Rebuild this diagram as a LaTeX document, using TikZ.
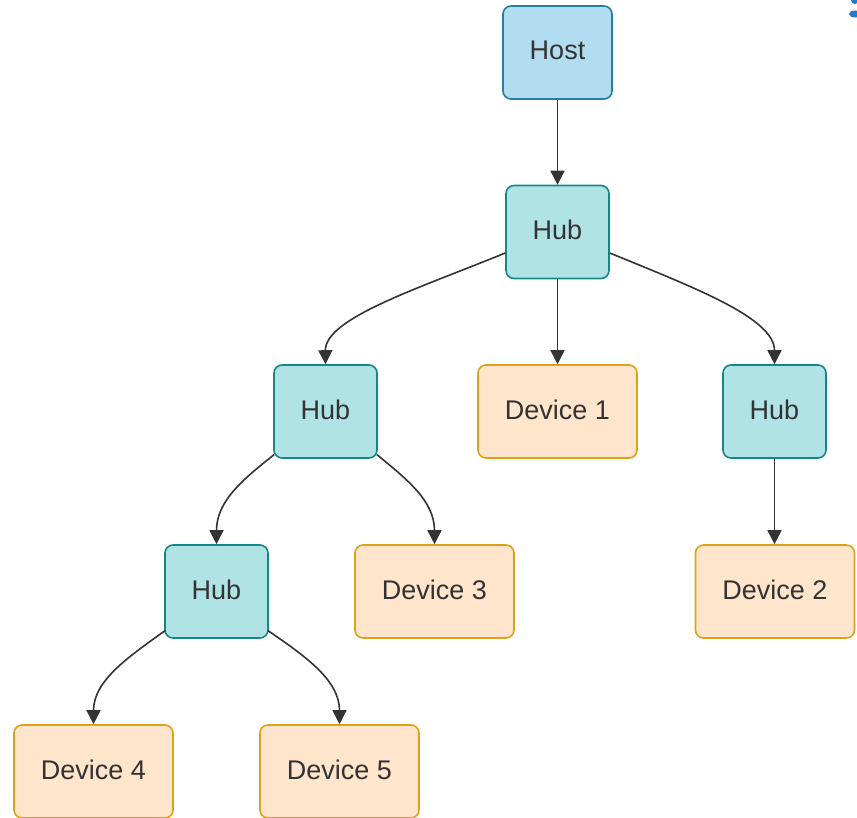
\documentclass[tikz,border=0pt]{standalone}
\usepackage{fontspec}
\setmainfont{Liberation Sans}
\usetikzlibrary{arrows.meta}
\definecolor{txt}{HTML}{333333}
\definecolor{hostfill}{HTML}{B2DDF0}
\definecolor{hostdraw}{HTML}{23809E}
\definecolor{hubfill}{HTML}{B0E3E6}
\definecolor{hubdraw}{HTML}{17868A}
\definecolor{devfill}{HTML}{FFE5CC}
\definecolor{devdraw}{HTML}{DDA21A}
\definecolor{markblue}{HTML}{1F7CCB}
\tikzset{
  box/.style={rounded corners=8pt, line width=1.6pt, text=txt, font=\fontsize{27}{31}\selectfont, inner sep=0pt, text depth=4pt, anchor=center},
  hoststyle/.style={box, fill=hostfill, draw=hostdraw, minimum width=109pt, minimum height=93pt},
  hubstyle/.style={box, fill=hubfill, draw=hubdraw, minimum width=103pt, minimum height=93pt},
  devstyle/.style={box, fill=devfill, draw=devdraw, minimum width=159pt, minimum height=93pt},
  edge/.style={draw=txt, line width=1.6pt, -{Triangle[length=14pt,width=14pt]}}
}
\begin{document}
\begin{tikzpicture}[x=1pt,y=-1pt]
\useasboundingbox (0,0) rectangle (857,817);
\node[hoststyle] (host) at (557.5,52.5) {Host};
\node[hubstyle] (hub1) at (557.5,232) {Hub};
\node[hubstyle] (hub2) at (325.5,411.5) {Hub};
\node[devstyle] (dev1) at (557.5,411.5) {Device 1};
\node[hubstyle] (hub3) at (774.5,411.5) {Hub};
\node[hubstyle] (hub4) at (216.5,591.5) {Hub};
\node[devstyle] (dev3) at (434.5,591.5) {Device 3};
\node[devstyle] (dev2) at (775,591.5) {Device 2};
\node[devstyle] (dev4) at (93.5,771.5) {Device 4};
\node[devstyle] (dev5) at (339.5,771.5) {Device 5};
% anchor points on hub borders
\coordinate (h1l) at ([yshift=-21pt]hub1.west);
\coordinate (h1r) at ([yshift=-21pt]hub1.east);
\coordinate (h2l) at ([xshift=1pt,yshift=-43pt]hub2.west);
\coordinate (h2r) at ([xshift=-1pt,yshift=-43pt]hub2.east);
\coordinate (h4l) at ([xshift=1pt,yshift=-39pt]hub4.west);
\coordinate (h4r) at ([xshift=-1pt,yshift=-39pt]hub4.east);
\draw[edge] (host.south) -- (hub1.north);
\draw[edge] (hub1.south) -- (dev1.north);
\draw[edge] (hub3.south) -- (hub3.south |- dev2.north);
\draw[edge] (h1l) .. controls (420,288) and (325,318) .. (hub2.north);
\draw[edge] (h1r) .. controls (695,288) and (774.5,318) .. (hub3.north);
\draw[edge] (h2l) .. controls (245,478) and (216.5,500) .. (hub4.north);
\draw[edge] (h2r) .. controls (405,478) and (434.5,500) .. (dev3.north);
\draw[edge] (h4l) .. controls (130,656) and (93.5,680) .. (dev4.north);
\draw[edge] (h4r) .. controls (305,656) and (339.5,680) .. (dev5.north);
% partial blue mark at the top-right corner
\begin{scope}
\clip (0,0) rectangle (857,817);
\fill[markblue] (855,0) circle (4pt);
\fill[markblue] (855,14) ellipse (6pt and 3.5pt);
\end{scope}
\end{tikzpicture}
\end{document}
